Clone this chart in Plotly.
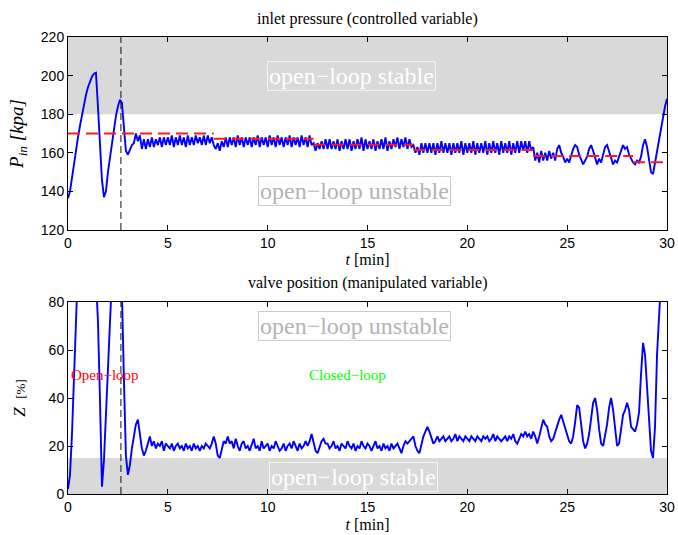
import numpy as np
import plotly.graph_objects as go

# time grid (minutes), sampled every 0.1 min
t = np.round(np.arange(301) * 0.1, 1)

# inlet pressure P_in [kpa]
pressure = [
    136.5, 140, 147, 155, 162, 168, 174, 180, 185, 190,
    194, 197, 199.5, 201, 201.5, 184, 165, 146, 137, 140,
    150, 158, 166, 173, 179, 184, 187.5, 186, 173, 161,
    159, 162, 164, 165, 170, 166, 169, 162, 167, 162,
    167, 163, 168, 163, 167, 164, 168, 163, 168, 164,
    168, 164, 169, 163, 168, 164, 169, 164, 168, 163,
    169, 164, 168, 164, 169, 165, 168, 164, 169, 164,
    169, 165, 168, 164, 162, 165, 161, 166, 163, 168,
    163, 168, 164, 168, 163, 169, 164, 168, 163, 168,
    164, 168, 163, 168, 164, 169, 163, 168, 164, 168,
    163, 169, 164, 168, 163, 169, 164, 168, 163, 168,
    164, 169, 163, 168, 164, 168, 163, 169, 164, 168,
    163, 169, 164, 165, 161, 165, 162, 166, 162, 167,
    162, 167, 162, 166, 162, 167, 161, 166, 162, 167,
    162, 167, 161, 166, 162, 167, 162, 168, 161, 167,
    162, 166, 162, 167, 161, 166, 162, 167, 162, 168,
    161, 166, 162, 167, 163, 168, 162, 167, 163, 168,
    162, 167, 163, 164, 160, 163, 159, 165, 160, 165,
    160, 165, 160, 165, 159, 165, 160, 166, 160, 165,
    160, 165, 159, 165, 160, 165, 160, 166, 159, 165,
    160, 165, 160, 166, 159, 165, 160, 165, 160, 166,
    159, 165, 160, 166, 160, 165, 159, 166, 160, 165,
    160, 166, 159, 165, 160, 166, 160, 166, 161, 166,
    160, 166, 161, 163, 156, 160, 155, 161, 156, 160,
    156, 161, 157, 160, 156, 162, 164, 160, 158, 155,
    157, 155, 159, 162, 164, 163, 159, 156, 154, 156,
    158, 162, 164, 161, 157, 154, 157, 155, 159, 163,
    164, 161, 158, 154, 156, 155, 158, 161, 164, 162,
    163, 159, 157, 155, 154, 156, 155, 158, 164, 167,
    163, 156, 150, 149, 155, 162, 168, 174, 179, 184,
    188,
]

# valve position Z [%]
valve = [
    2, 8, 25, 50, 74, 95, 110, 120, 126, 128,
    127, 123, 115, 103, 90, 72, 40, 3, 14, 34,
    54, 73, 90, 102, 108, 107, 98, 84, 48, 16,
    8, 12, 19, 25, 29, 31, 25, 19, 16, 18,
    21, 24, 20, 22, 19, 21, 20, 22, 18, 21,
    20, 19, 21, 18, 20, 21, 19, 20, 18, 21,
    19, 20, 18, 21, 19, 20, 18, 20, 19, 21,
    20, 19, 21, 24, 21, 16, 15, 19, 22, 21,
    24, 21, 22, 19, 23, 20, 18, 21, 22, 19,
    20, 18, 21, 23, 19, 20, 18, 22, 19, 20,
    21, 18, 20, 19, 22, 20, 18, 19, 21, 18,
    20, 21, 19, 22, 20, 18, 21, 19, 20, 22,
    20, 22, 25, 21, 18, 17, 20, 22, 23, 21,
    21, 19, 20, 22, 19, 20, 18, 21, 20, 19,
    22, 20, 19, 21, 18, 20, 19, 22, 20, 19,
    21, 20, 18, 20, 22, 19, 20, 18, 21, 19,
    20, 18, 21, 19, 20, 21, 19, 17, 20, 22,
    21, 22, 23, 24, 20, 18, 17, 21, 24, 26,
    28, 26, 23, 21, 22, 24, 22, 23, 24, 22,
    23, 24, 22, 23, 25, 22, 24, 23, 22, 24,
    23, 22, 24, 23, 22, 24, 23, 22, 24, 23,
    24, 22, 23, 25, 22, 24, 23, 22, 23, 24,
    22, 24, 23, 25, 22, 21, 23, 25, 24, 26,
    24, 25, 23, 26, 24, 21, 24, 28, 31, 29,
    28, 24, 22, 23, 26, 28, 31, 33, 30, 27,
    24, 22, 21, 24, 30, 37, 36, 29, 22, 19,
    21, 25, 31, 38, 40, 35, 27, 21, 20, 24,
    29, 36, 40, 35, 26, 20, 21, 27, 33, 35,
    38, 35, 28, 27, 26, 29, 34, 50, 63, 58,
    46, 31, 18, 15, 28, 58, 85, 100, 112, 120,
    125,
]

# set-point steps for the pressure
sp_start = [0, 7.3, 12.3, 17.3, 23.3, 28.3]
sp_end = [7.3, 12.3, 17.3, 23.3, 28.3, 30]
sp_value = [170, 167.3, 164.2, 161.4, 158.3, 155.1]

switch_t = 2.65             # open-loop -> closed-loop switch
p_stable_band = [180, 220]  # open-loop stable region for P_in
z_stable_band = [0, 15]     # open-loop stable region for Z

sp_x, sp_y = [], []
for a, b, v in zip(sp_start, sp_end, sp_value):
    sp_x += [a, b, None]
    sp_y += [v, v, None]

serif = "Liberation Serif, Times New Roman, serif"
sans = "Liberation Sans, Arial, Helvetica, sans-serif"

fig = go.Figure()
fig.add_trace(go.Scatter(x=t, y=pressure, mode="lines", xaxis="x", yaxis="y",
                         line=dict(color="#0000ff", width=1.9), showlegend=False))
fig.add_trace(go.Scatter(x=sp_x, y=sp_y, mode="lines", xaxis="x", yaxis="y",
                         line=dict(color="#ff1a1a", width=2, dash="12px,6px"),
                         showlegend=False, connectgaps=False))
fig.add_trace(go.Scatter(x=t, y=valve, mode="lines", xaxis="x2", yaxis="y2",
                         line=dict(color="#0000ff", width=1.9), showlegend=False))

W, H = 678, 535
xdom = [68 / W, 667 / W]
top_dom = [1 - 230 / H, 1 - 37 / H]
bot_dom = [1 - 494 / H, 1 - 302 / H]

axis_common = dict(showline=True, linecolor="black", linewidth=1, mirror="ticks",
                   ticks="inside", ticklen=5, tickcolor="black", showgrid=False,
                   zeroline=False, automargin=False,
                   tickfont=dict(family=sans, size=14, color="black"))

fig.update_layout(
    width=W, height=H, margin=dict(l=0, r=0, t=0, b=0, pad=0),
    paper_bgcolor="white", plot_bgcolor="white",
    xaxis=dict(domain=xdom, range=[0, 30], tickvals=[0, 5, 10, 15, 20, 25, 30],
               anchor="y", title=dict(text="<i>t</i> [min]", standoff=2,
                                      font=dict(family=serif, size=16, color="black")),
               **axis_common),
    yaxis=dict(domain=top_dom, range=[120, 220], tickvals=[120, 140, 160, 180, 200, 220],
               anchor="x", title=dict(text="<i>P</i><sub><i>in</i></sub> <i>[kpa]</i>", standoff=12,
                                      font=dict(family=serif, size=19, color="black")),
               **axis_common),
    xaxis2=dict(domain=xdom, range=[0, 30], tickvals=[0, 5, 10, 15, 20, 25, 30],
                anchor="y2", title=dict(text="<i>t</i> [min]", standoff=5,
                                        font=dict(family=serif, size=16, color="black")),
                **axis_common),
    yaxis2=dict(domain=bot_dom, range=[0, 80], tickvals=[0, 20, 40, 60, 80],
                anchor="x2", title=dict(text="<i>Z</i>  <span style='font-size:13px'>[%]</span>",
                                        standoff=18,
                                        font=dict(family=serif, size=17, color="black")),
                **axis_common),
)

band_color = "#d9d9d9"
shapes = [
    dict(type="rect", xref="x", yref="y", x0=0, x1=30, y0=p_stable_band[0], y1=p_stable_band[1],
         fillcolor=band_color, line=dict(width=0), layer="below"),
    dict(type="rect", xref="x2", yref="y2", x0=0, x1=30, y0=z_stable_band[0], y1=z_stable_band[1],
         fillcolor=band_color, line=dict(width=0), layer="below"),
    dict(type="line", xref="x", yref="y domain", x0=switch_t, x1=switch_t, y0=0, y1=1,
         line=dict(color="#111111", width=1, dash="7px,4px")),
    dict(type="line", xref="x2", yref="y2 domain", x0=switch_t, x1=switch_t, y0=0, y1=1,
         line=dict(color="#111111", width=1, dash="7px,4px")),
]
fig.update_layout(shapes=shapes)

def box(text, x, y, xref, yref, fg, bg, border):
    return dict(text=text, x=x, y=y, xref=xref, yref=yref, showarrow=False,
                font=dict(family=serif, size=24, color=fg), bgcolor=bg,
                bordercolor=border, borderwidth=1, borderpad=1)

annotations = [
    dict(text="inlet pressure (controlled variable)", x=(xdom[0] + xdom[1]) / 2, y=1 - 19 / H,
         xref="paper", yref="paper", xanchor="center", yanchor="middle", showarrow=False,
         font=dict(family=serif, size=16, color="black")),
    dict(text="valve position (manipulated variable)", x=(xdom[0] + xdom[1]) / 2, y=1 - 283 / H,
         xref="paper", yref="paper", xanchor="center", yanchor="middle", showarrow=False,
         font=dict(family=serif, size=16, color="black")),
    box("open\u2212loop stable", 14.22, 200, "x", "y", "white", band_color, "#f4f4f4"),
    box("open\u2212loop unstable", 14.37, 140, "x", "y", "#b4b4b4", "white", "#cccccc"),
    box("open\u2212loop unstable", 14.37, 70, "x2", "y2", "#b4b4b4", "white", "#cccccc"),
    box("open\u2212loop stable", 14.3, 6.9, "x2", "y2", "white", band_color, "#f4f4f4"),
    dict(text="Open\u2212loop", x=0.07, y=49.6, xref="x2", yref="y2", xanchor="left",
         showarrow=False, font=dict(family=serif, size=15, color="#ff0000")),
    dict(text="Closed\u2212loop", x=14.0, y=49.6, xref="x2", yref="y2",
         showarrow=False, font=dict(family=serif, size=15, color="#00ff00")),
]
fig.update_layout(annotations=annotations)

fig.write_html("out.html")
